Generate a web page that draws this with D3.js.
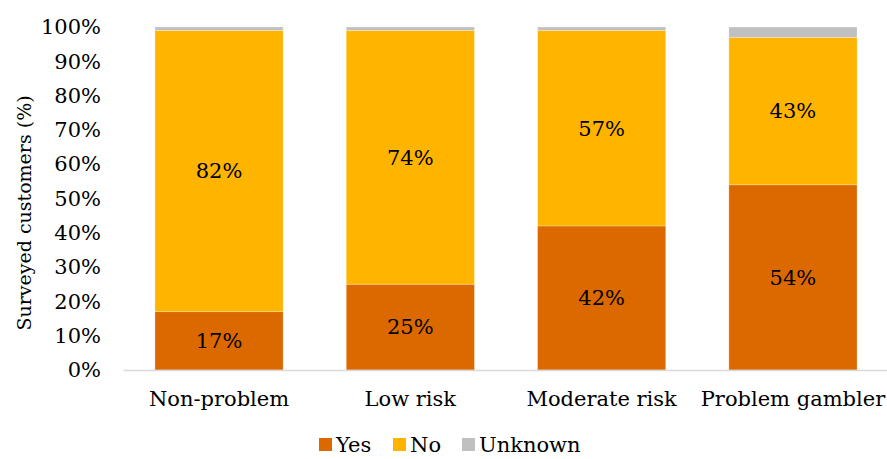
<!DOCTYPE html>
<html>
<head>
<meta charset="utf-8">
<script src="https://cdn.jsdelivr.net/npm/d3@7"></script>
<style>
  html, body { margin: 0; padding: 0; background: #fff; }
  svg { display: block; }
  text { font-family: Georgia, "DejaVu Serif", serif; fill: #000; }
</style>
</head>
<body>
<svg id="chart" width="887" height="459"></svg>
<script>
// Survey responses by gambler risk category (percent of customers)
const categories = ["Non-problem", "Low risk", "Moderate risk", "Problem gambler"];
const seriesNames = ["Yes", "No", "Unknown"];
const yesValues = [17, 25, 42, 54];
const noValues = [82, 74, 57, 43];
const unknownValues = [1, 1, 1, 3];
const yTicks = [0, 10, 20, 30, 40, 50, 60, 70, 80, 90, 100];
const colors = { Yes: "#DB6900", No: "#FFB500", Unknown: "#C0C0C0" };

const rows = categories.map((c, i) => ({
  category: c, Yes: yesValues[i], No: noValues[i], Unknown: unknownValues[i]
}));

const svg = d3.select("#chart");
const fontFamily = 'Georgia, "DejaVu Serif", serif';
const fontSize = 21;

const x = d3.scaleBand()
  .domain(categories)
  .range([123, 889])
  .paddingInner(0.33)
  .paddingOuter(0.167);

const y = d3.scaleLinear().domain([0, 100]).range([370, 27]);

const stacked = d3.stack().keys(seriesNames)(rows);

// bars
const layers = svg.append("g").selectAll("g")
  .data(stacked)
  .join("g")
  .attr("fill", d => colors[d.key]);

layers.selectAll("rect")
  .data(d => d)
  .join("rect")
  .attr("x", d => x(d.data.category))
  .attr("width", x.bandwidth())
  .attr("y", d => y(d[1]))
  .attr("height", d => y(d[0]) - y(d[1]))
  .attr("stroke", "#ffffff")
  .attr("stroke-opacity", 0.35)
  .attr("stroke-width", 0.75);

// value labels for Yes and No segments
stacked.filter(s => s.key !== "Unknown").forEach(s => {
  svg.append("g").selectAll("text")
    .data(s)
    .join("text")
    .attr("x", d => x(d.data.category) + x.bandwidth() / 2)
    .attr("y", d => (y(d[0]) + y(d[1])) / 2)
    .attr("dy", "0.35em")
    .attr("text-anchor", "middle")
    .style("font-size", fontSize + "px")
    .text(d => d.data[s.key] + "%");
});

// y axis
const yAxis = svg.append("g")
  .attr("transform", "translate(101,0)")
  .call(d3.axisLeft(y).tickValues(yTicks).tickSize(0).tickPadding(0).tickFormat(d => d + "%"));
yAxis.select(".domain").remove();
yAxis.selectAll("text")
  .style("font-size", fontSize + "px")
  .style("font-family", fontFamily)
  .attr("fill", "#000");

// x axis
const xAxis = svg.append("g")
  .attr("transform", "translate(0,370)")
  .call(d3.axisBottom(x).tickSize(0).tickPadding(21));
xAxis.select(".domain").attr("stroke", "#D9D9D9").attr("stroke-width", 1.5);
xAxis.selectAll("text")
  .style("font-size", fontSize + "px")
  .style("font-family", fontFamily)
  .attr("fill", "#000");

// y axis title
svg.append("text")
  .attr("transform", "translate(31,213) rotate(-90)")
  .attr("text-anchor", "middle")
  .style("font-size", "19px")
  .text("Surveyed customers (%)");

// legend
const legendItems = [
  { key: "Yes", x: 319 },
  { key: "No", x: 393 },
  { key: "Unknown", x: 462 }
];
const legend = svg.append("g").selectAll("g")
  .data(legendItems)
  .join("g")
  .attr("transform", d => `translate(${d.x},438)`);
legend.append("rect")
  .attr("width", 13).attr("height", 13)
  .attr("fill", d => colors[d.key]);
legend.append("text")
  .attr("x", 17).attr("y", 7)
  .attr("dy", "0.35em")
  .style("font-size", fontSize + "px")
  .text(d => d.key);
</script>
</body>
</html>
